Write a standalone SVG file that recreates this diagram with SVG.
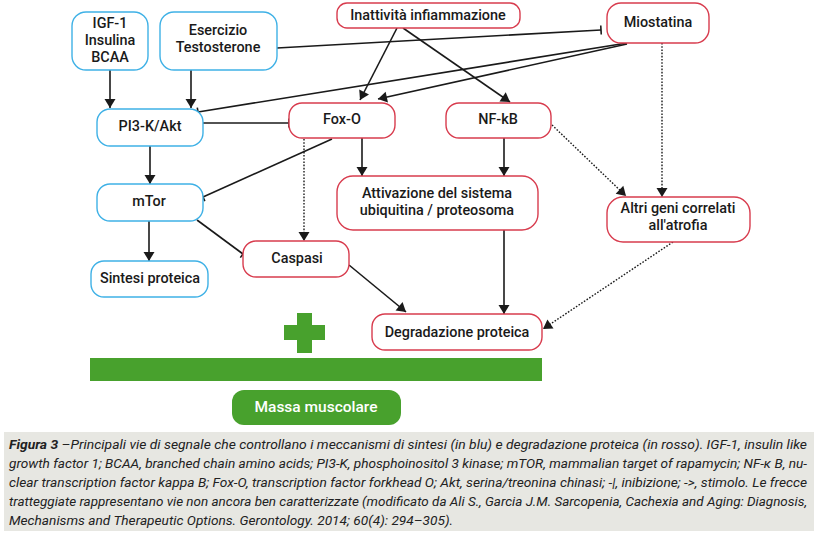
<svg xmlns="http://www.w3.org/2000/svg" width="814" height="533" viewBox="0 0 814 533">
<defs>
<style>
.b{fill:#fff;stroke:#3fb1e6;stroke-width:1.4}
.r{fill:#fff;stroke:#d83c4e;stroke-width:1.4}
.t{font-family:Roboto,"Liberation Sans",sans-serif;font-size:14.4px;font-weight:500;fill:#1a1a1a;text-anchor:middle}
.c{stroke:#1a1a1a;stroke-width:1.6;fill:none}
.d{stroke:#1a1a1a;stroke-width:1.4;fill:none;stroke-dasharray:1.6 1.6}
.a{marker-end:url(#arr)}
.i{marker-end:url(#inh)}
.cap{font-family:Roboto,"Liberation Sans",sans-serif;font-size:13px;font-style:italic;fill:#222}
</style>
<marker id="arr" markerUnits="userSpaceOnUse" markerWidth="12" markerHeight="12" viewBox="-10 -6 12 12" refX="0" refY="0" orient="auto">
<path d="M-9,-5.5 L0,0 L-9,5.5 z" fill="#1a1a1a"/>
</marker>
<marker id="inh" markerUnits="userSpaceOnUse" markerWidth="6" markerHeight="12" viewBox="-3 -6 6 12" refX="0" refY="0" orient="auto">
<path d="M0,-4.5 L0,4.5" stroke="#1a1a1a" stroke-width="1.6"/>
</marker>
</defs>
<rect width="814" height="533" fill="#fff"/>
<g id="connectors">
<path class="c a" d="M110,70 L110,108"/>
<path class="c a" d="M191,70 L191,108"/>
<path class="c i" d="M277,48 L601,30"/>
<path class="c i" d="M627,43 L198,112"/>
<path class="c a" d="M627,44 L378,99"/>
<path class="c a" d="M397,28 L360,100"/>
<path class="c a" d="M403,28 L510,102"/>
<path class="c i" d="M203,123 L289,123"/>
<path class="c a" d="M150,146 L150,184"/>
<path class="c i" d="M332,139 L203,197"/>
<path class="d a" d="M304,139 L304,241"/>
<path class="c a" d="M362,138 L362,176"/>
<path class="c a" d="M504,138 L504,176"/>
<path class="d a" d="M552,125 L626,196"/>
<path class="d a" d="M662,43 L662,197"/>
<path class="c i" d="M197,220 L243,254"/>
<path class="c a" d="M149,221 L149,261"/>
<path class="c a" d="M349,265 L406,312"/>
<path class="c a" d="M504,230 L504,314"/>
<path class="d a" d="M673,242 L543,329"/>
</g>
<g id="igf"><rect class="b" x="72" y="12" width="76" height="58" rx="14"/>
<text class="t" x="110" y="28">IGF-1</text><text class="t" x="110" y="45">Insulina</text><text class="t" x="110" y="62">BCAA</text></g>
<g id="esercizio"><rect class="b" x="160" y="12" width="117" height="58" rx="14"/>
<text class="t" x="218" y="35">Esercizio</text><text class="t" x="218" y="52">Testosterone</text></g>
<g id="inattivita"><rect class="r" x="337" y="3" width="183" height="25" rx="10"/>
<text class="t" x="428" y="20">Inattività infiammazione</text></g>
<g id="miostatina"><rect class="r" x="607" y="3" width="102" height="40" rx="14"/>
<text class="t" x="658" y="27">Miostatina</text></g>
<g id="pi3k"><rect class="b" x="97" y="109" width="106" height="37" rx="13"/>
<text class="t" x="150" y="131">PI3-K/Akt</text></g>
<g id="foxo"><rect class="r" x="289" y="103" width="106" height="35" rx="13"/>
<text class="t" x="342" y="124">Fox-O</text></g>
<g id="nfkb"><rect class="r" x="446" y="103" width="105" height="35" rx="13"/>
<text class="t" x="498" y="124">NF-kB</text></g>
<g id="mtor"><rect class="b" x="97" y="184" width="106" height="37" rx="13"/>
<text class="t" x="149" y="206">mTor</text></g>
<g id="attivazione"><rect class="r" x="337" y="176" width="201" height="54" rx="16"/>
<text class="t" x="437" y="198">Attivazione del sistema</text><text class="t" x="437" y="215">ubiquitina / proteosoma</text></g>
<g id="altri"><rect class="r" x="607" y="197" width="143" height="45" rx="16"/>
<text class="t" x="678" y="213">Altri geni correlati</text><text class="t" x="678" y="230">all'atrofia</text></g>
<g id="caspasi"><rect class="r" x="243" y="241" width="106" height="36" rx="13"/>
<text class="t" x="297" y="263">Caspasi</text></g>
<g id="sintesi"><rect class="b" x="91" y="261" width="117" height="36" rx="13"/>
<text class="t" x="150" y="283">Sintesi proteica</text></g>
<g id="degradazione"><rect class="r" x="372" y="314" width="170" height="36" rx="13"/>
<text class="t" x="457" y="337">Degradazione proteica</text></g>
<g id="cross" fill="#48a12d"><rect x="297" y="313" width="15" height="40"/><rect x="284" y="325" width="41" height="15"/></g>
<rect id="bar" x="90" y="358" width="452" height="23" fill="#48a12d"/>
<g id="massa"><rect x="232" y="390" width="169" height="35" rx="12" fill="#48a12d"/>
<text class="t" x="316" y="412" style="fill:#fff;font-size:15.5px">Massa muscolare</text></g>
<g id="caption">
<rect x="4" y="432" width="810" height="99" fill="#e7e7e2"/>
<text class="cap" x="9" y="449" textLength="798" lengthAdjust="spacingAndGlyphs"><tspan font-weight="bold">Figura 3</tspan> –Principali vie di segnale che controllano i meccanismi di sintesi (in blu) e degradazione proteica (in rosso). IGF-1, insulin like</text>
<text class="cap" x="9" y="468" textLength="798" lengthAdjust="spacingAndGlyphs">growth factor 1; BCAA, branched chain amino acids; PI3-K, phosphoinositol 3 kinase; mTOR, mammalian target of rapamycin; NF-κ B, nu-</text>
<text class="cap" x="9" y="487" textLength="798" lengthAdjust="spacingAndGlyphs">clear transcription factor kappa B; Fox-O, transcription factor forkhead O; Akt, serina/treonina chinasi; -|, inibizione; -&gt;, stimolo. Le frecce</text>
<text class="cap" x="9" y="506" textLength="798" lengthAdjust="spacingAndGlyphs">tratteggiate rappresentano vie non ancora ben caratterizzate (modificato da Ali S., Garcia J.M. Sarcopenia, Cachexia and Aging: Diagnosis,</text>
<text class="cap" x="9" y="525" textLength="444" lengthAdjust="spacingAndGlyphs">Mechanisms and Therapeutic Options. Gerontology. 2014; 60(4): 294–305).</text>
</g>
</svg>
